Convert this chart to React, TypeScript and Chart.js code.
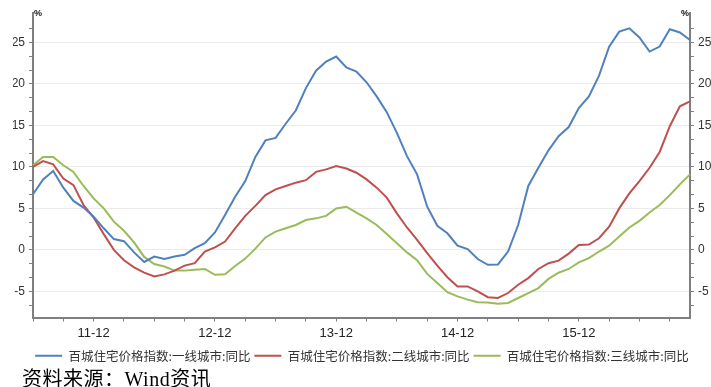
import React, { useEffect, useRef } from "react";
import { Chart, registerables } from "chart.js";

Chart.register(...registerables);

// Monthly categories: 2011-06 .. 2016-11 (labels as "YY-MM")
const startYear = 2011;
const startMonth = 6;
const monthCount = 66;
const categories: string[] = Array.from({ length: monthCount }, (_, i) => {
  const m0 = startMonth - 1 + i;
  const y = startYear + Math.floor(m0 / 12);
  const m = (m0 % 12) + 1;
  return `${String(y).slice(2)}-${m < 10 ? "0" + m : m}`;
});

const xTickLabels = ["11-12", "12-12", "13-12", "14-12", "15-12"];

const seriesNames = [
  "百城住宅价格指数:一线城市:同比",
  "百城住宅价格指数:二线城市:同比",
  "百城住宅价格指数:三线城市:同比",
];

const tier1 = [
  6.7, 8.5, 9.5, 7.5, 5.9, 5.1, 4.0, 2.6, 1.3, 1.05,
  -0.3, -1.45, -0.8, -1.1, -0.8, -0.6, 0.2, 0.8, 2.1, 4.2,
  6.4, 8.3, 11.2, 13.2, 13.5, 15.2, 16.8, 19.5, 21.6, 22.7,
  23.3, 22.0, 21.5, 20.2, 18.5, 16.6, 14.1, 11.3, 9.1, 5.2,
  2.9, 2.0, 0.5, 0.1, -1.1, -1.8, -1.75, -0.2, 3.0, 7.7,
  9.9, 12.0, 13.7, 14.8, 17.1, 18.5, 21.0, 24.5, 26.3, 26.7,
  25.6, 23.9, 24.5, 26.6, 26.2, 25.3,
];

const tier2 = [
  10.0, 10.7, 10.3, 8.6, 7.8, 5.4, 3.9, 1.9, 0.0, -1.25,
  -2.1, -2.75, -3.2, -2.95, -2.5, -1.9, -1.6, -0.2, 0.3, 1.0,
  2.6, 4.1, 5.3, 6.6, 7.3, 7.7, 8.1, 8.4, 9.4, 9.7,
  10.1, 9.8, 9.3, 8.5, 7.5, 6.3, 4.4, 2.7, 1.2, -0.4,
  -1.9, -3.3, -4.4, -4.4, -5.0, -5.7, -5.8, -5.2, -4.2, -3.4,
  -2.3, -1.6, -1.3, -0.45, 0.6, 0.65, 1.4, 2.8, 5.0, 6.8,
  8.3, 9.9, 11.8, 14.9, 17.3, 17.9,
];

const tier3 = [
  10.2, 11.2, 11.2, 10.2, 9.4, 7.7, 6.2, 5.0, 3.4, 2.3,
  0.9, -0.85, -1.7, -2.0, -2.5, -2.5, -2.4, -2.3, -3.0, -2.95,
  -1.95, -1.05, 0.15, 1.5, 2.2, 2.6, 3.0, 3.6, 3.8, 4.1,
  5.0, 5.2, 4.5, 3.8, 3.0, 1.9, 0.8, -0.3, -1.25, -2.9,
  -4.0, -5.1, -5.6, -6.0, -6.3, -6.35, -6.5, -6.4, -5.8, -5.2,
  -4.6, -3.5, -2.75, -2.3, -1.5, -1.0, -0.2, 0.5, 1.6, 2.7,
  3.5, 4.5, 5.4, 6.6, 7.9, 9.1,
];

const seriesColors = ["#4F81BD", "#C0504D", "#9BBB59"];

const yMin = -8.15;
const yMax = 28.55;
const yMajorStep = 5;
const yMinorDiv = 3;

const yTickValues: number[] = [];
for (let k = -4; k <= 16; k++) {
  const v = Math.round(((k * yMajorStep) / yMinorDiv) * 1e9) / 1e9;
  if (v >= yMin && v <= yMax) yTickValues.push(v);
}
const isMajor = (v: number) =>
  Math.abs(v / yMajorStep - Math.round(v / yMajorStep)) < 1e-6;

const AXIS_COLOR = "#7f7f7f";
const GRID_COLOR = "#ebebeb";

const percentPlugin = {
  id: "percentLabels",
  afterDraw(chart: any) {
    const { ctx, chartArea } = chart;
    ctx.save();
    ctx.font = "bold 9px 'Liberation Sans', sans-serif";
    ctx.fillStyle = "#111";
    ctx.textBaseline = "middle";
    ctx.textAlign = "left";
    ctx.fillText("%", chartArea.left + 1, chartArea.top + 1);
    ctx.textAlign = "right";
    ctx.fillText("%", chartArea.right - 1, chartArea.top + 1);
    ctx.restore();
  },
};

const yTickOpts = {
  autoSkip: false,
  padding: 4,
  color: "#333",
  font: { family: "'Liberation Sans', sans-serif", size: 12 },
  callback: (v: any) => (isMajor(Number(v)) ? String(Math.round(Number(v))) : ""),
};

export default function App() {
  const canvasRef = useRef<HTMLCanvasElement | null>(null);

  useEffect(() => {
    const canvas = canvasRef.current;
    if (!canvas) return;
    const seriesData = [tier1, tier2, tier3];
    const chart = new Chart(canvas, {
      type: "line",
      data: {
        labels: categories,
        datasets: seriesData.map((d, i) => ({
          label: seriesNames[i],
          data: d,
          borderColor: seriesColors[i],
          backgroundColor: seriesColors[i],
          borderWidth: 2,
          pointRadius: 0,
          tension: 0,
          fill: false,
          yAxisID: "y",
        })),
      },
      options: {
        animation: false,
        responsive: false,
        devicePixelRatio: 1,
        layout: { padding: { top: 13, left: 13, right: 0, bottom: 0 } },
        plugins: {
          tooltip: { enabled: false },
          legend: {
            position: "bottom",
            labels: {
              boxWidth: 27,
              boxHeight: 2,
              padding: 4,
              color: "#333",
              font: { family: "'Noto Sans CJK SC', sans-serif", size: 12.5 },
              generateLabels: (c: any) =>
                Chart.defaults.plugins.legend.labels
                  .generateLabels(c)
                  .map((it: any) => ({ ...it, lineWidth: 0, fillStyle: it.strokeStyle })),
            },
          },
        },
        scales: {
          x: {
            type: "category",
            offset: false,
            afterBuildTicks: (scale: any) => {
              scale.ticks = scale.ticks.filter((t: any) => t.value % 3 === 0);
            },
            afterFit: (scale: any) => {
              scale.height = 28;
            },
            grid: {
              display: true,
              drawOnChartArea: false,
              drawTicks: true,
              tickLength: 4,
              color: AXIS_COLOR,
              tickColor: AXIS_COLOR,
            },
            border: { display: true, color: AXIS_COLOR, width: 2 },
            ticks: {
              autoSkip: false,
              maxRotation: 0,
              minRotation: 0,
              padding: 4,
              color: "#222",
              font: { family: "'Liberation Sans', sans-serif", size: 13 },
              callback: function (this: any, value: any) {
                const lbl = this.getLabelForValue(value);
                return xTickLabels.includes(lbl) ? lbl : "";
              },
            },
          },
          y: {
            type: "linear",
            position: "left",
            min: yMin,
            max: yMax,
            afterBuildTicks: (scale: any) => {
              scale.ticks = yTickValues.map((v) => ({ value: v }));
            },
            afterFit: (scale: any) => {
              scale.width = 20;
            },
            grid: {
              drawOnChartArea: true,
              drawTicks: true,
              tickLength: 4,
              color: (ctx: any) =>
                ctx.tick && isMajor(ctx.tick.value) ? GRID_COLOR : "rgba(0,0,0,0)",
              tickColor: AXIS_COLOR,
            },
            border: { display: true, color: AXIS_COLOR, width: 2 },
            ticks: yTickOpts,
          },
          y1: {
            type: "linear",
            position: "right",
            min: yMin,
            max: yMax,
            afterBuildTicks: (scale: any) => {
              scale.ticks = yTickValues.map((v) => ({ value: v }));
            },
            afterFit: (scale: any) => {
              scale.width = 21;
            },
            grid: {
              drawOnChartArea: false,
              drawTicks: true,
              tickLength: 4,
              color: AXIS_COLOR,
              tickColor: AXIS_COLOR,
            },
            border: { display: true, color: AXIS_COLOR, width: 2 },
            ticks: yTickOpts,
          },
        },
      },
      plugins: [percentPlugin],
    } as any);
    return () => chart.destroy();
  }, []);

  return (
    <div
      style={{
        position: "absolute",
        left: 0,
        top: 0,
        width: 711,
        height: 387,
        overflow: "hidden",
        background: "#fff",
      }}
    >
      <canvas ref={canvasRef} width={711} height={372} style={{ display: "block" }} />
      <div
        style={{
          position: "absolute",
          left: 22,
          top: 369,
          fontSize: 20,
          lineHeight: "20px",
          letterSpacing: "0.5px",
          whiteSpace: "nowrap",
          color: "#000",
          fontFamily: "'Liberation Serif', 'Noto Sans CJK SC', serif",
        }}
      >
        资料来源：Wind资讯
      </div>
    </div>
  );
}
